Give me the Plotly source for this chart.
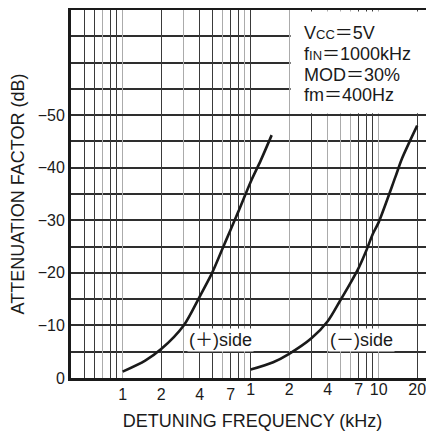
import math
import plotly.graph_objects as go

# ---------------- data ----------------
# (+)side curve, detuning frequency (kHz) on the left scale
plus_freq = [1.0, 1.5, 2.0, 3.0, 4.0, 5.0, 6.0, 7.0, 8.0, 10.0, 12.0, 14.6]
plus_att = [-1.2, -3.3, -5.5, -10.0, -15.5, -20.0, -24.5, -28.3, -31.6, -37.3, -41.4, -46.2]

# (-)side curve, detuning frequency (kHz) on the right scale
minus_freq = [1.0, 1.5, 2.0, 3.0, 4.0, 5.0, 6.0, 7.0, 8.0, 9.0, 10.0, 13.5, 15.2, 20.0]
minus_att = [-1.6, -3.0, -4.6, -7.6, -10.8, -14.7, -18.0, -21.0, -24.2, -27.4, -29.6, -38.2, -41.7, -48.0]

left_tickvals = [1, 2, 4, 7]
left_ticktext = ["1", "2", "4", "7"]
right_tickvals = [1, 2, 4, 7, 10, 20]
right_ticktext = ["1", "2", "4", "7", "10", "20"]
y_tickvals = [0, -10, -20, -30, -40, -50]
y_minor = [-5, -15, -25, -35, -45, -55, -60, -65]

# grid lines (dark / light) for each scale
left_dark = [0.5, 0.6, 0.8, 0.9, 2, 4, 5, 7, 8, 10]
left_light = [0.7, 1, 3, 6, 9]
right_dark = [3, 7, 8, 9, 20]
right_light = [2, 4, 5, 6, 10]

cond_lines = ["V<span style='font-size:13px'>CC</span>＝5V",
              "f<span style='font-size:13px'>IN</span>＝1000kHz",
              "MOD＝30%",
              "fm＝400Hz"]
side_labels = ["(＋)side", "(－)side"]

# ---------------- figure ----------------
FONT = "Liberation Sans, Arial, Noto Sans CJK JP, sans-serif"
INK = "#1a1a1a"
DARK = "#3a3a3a"
LIGHT = "#ababab"

left_range = [math.log10(0.395), math.log10(0.395) + 363 / 128]
right_range = [left_range[0] - 1, left_range[1] - 1]

fig = go.Figure()
fig.add_trace(go.Scatter(x=plus_freq, y=plus_att, mode="lines", xaxis="x", yaxis="y",
                         line=dict(color=INK, width=2.6, shape="spline", smoothing=0.8),
                         showlegend=False))
fig.add_trace(go.Scatter(x=minus_freq, y=minus_att, mode="lines", xaxis="x2", yaxis="y",
                         line=dict(color=INK, width=2.6, shape="spline", smoothing=0.8),
                         showlegend=False))
# empty traces so that the grid-only axes get drawn
for ax in ("x3", "x4"):
    fig.add_trace(go.Scatter(x=[], y=[], xaxis=ax, yaxis="y", showlegend=False, hoverinfo="skip"))

common_x = dict(type="log", domain=[0, 1], anchor="y", showgrid=False, zeroline=False,
                ticks="", automargin=False, tickfont=dict(size=16, color=INK, family=FONT))

fig.update_layout(
    width=426, height=425,
    margin=dict(l=63, r=0, t=2, b=55),
    paper_bgcolor="white", plot_bgcolor="white",
    font=dict(family=FONT, color=INK),
    showlegend=False,
    xaxis=dict(**common_x, range=left_range, tickmode="array",
               tickvals=left_tickvals, ticktext=left_ticktext,
               showline=True, mirror=True, linecolor=INK, linewidth=3,
               title=dict(text="DETUNING FREQUENCY (kHz)", font=dict(size=18, color=INK, family=FONT),
                          standoff=13)),
    xaxis2=dict(**common_x, range=right_range, overlaying="x", side="bottom", tickmode="array",
                tickvals=right_tickvals, ticktext=right_ticktext, showline=False),
    xaxis3=dict(type="log", domain=[0, 1], anchor="y", overlaying="x", range=left_range,
                showticklabels=False, ticks="", zeroline=False, showline=False,
                tickmode="array", tickvals=left_dark, showgrid=True, gridcolor=DARK, gridwidth=1.3,
                minor=dict(tickmode="array", tickvals=left_light, showgrid=True,
                           gridcolor=LIGHT, gridwidth=1.3, ticks="")),
    xaxis4=dict(type="log", domain=[0, 1], anchor="y", overlaying="x", range=right_range,
                showticklabels=False, ticks="", zeroline=False, showline=False,
                tickmode="array", tickvals=right_dark, showgrid=True, gridcolor=DARK, gridwidth=1.3,
                minor=dict(tickmode="array", tickvals=right_light, showgrid=True,
                           gridcolor=LIGHT, gridwidth=1.3, ticks="")),
    yaxis=dict(range=[0, -70], domain=[0, 1], anchor="x", tickmode="array", tickvals=y_tickvals,
               showgrid=True, gridcolor="#2e2e2e", gridwidth=1.6, zeroline=False,
               minor=dict(tickmode="array", tickvals=y_minor, showgrid=True,
                          gridcolor="#2e2e2e", gridwidth=1.6, ticks=""),
               ticks="", automargin=False, showline=True, linecolor=INK, linewidth=3,
               tickfont=dict(size=16, color=INK, family=FONT),
               title=dict(text="ATTENUATION FACTOR (dB)", font=dict(size=18, color=INK, family=FONT),
                          standoff=17)),
)

# white panel behind the condition text (upper right)
fig.add_shape(type="rect", xref="paper", yref="y", x0=0.605, x1=1.0, y0=-50.35, y1=-69.7,
              fillcolor="white", line=dict(width=0), layer="above")

cond_y = [0.937, 0.880, 0.823, 0.768]
for txt, yy in zip(cond_lines, cond_y):
    fig.add_annotation(xref="paper", yref="paper", x=0.636, y=yy, text=txt, showarrow=False,
                       xanchor="left", yanchor="middle", font=dict(size=18, color=INK, family=FONT))

for txt, xx in zip(side_labels, [0.4105, 0.800]):
    fig.add_annotation(xref="paper", yref="paper", x=xx, y=0.1033, text=txt, showarrow=False,
                       xanchor="center", yanchor="middle", bgcolor="white", borderpad=1,
                       font=dict(size=18, color=INK, family=FONT))

fig.write_html("out.html")
